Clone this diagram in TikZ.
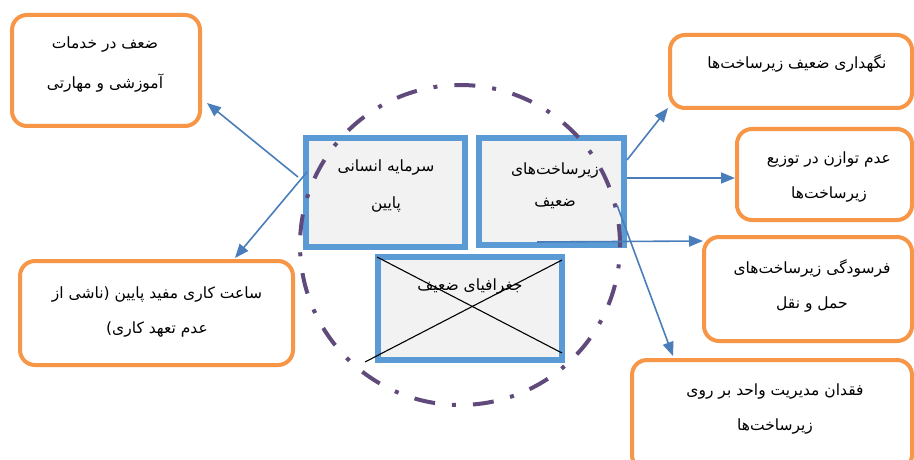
\documentclass[tikz,border=0pt]{standalone}
\usepackage{fontspec}
\newfontfamily\arabicfont[Script=Arabic]{DejaVu Sans}
\TeXXeTstate=1
\usetikzlibrary{arrows.meta}
\definecolor{bluebd}{HTML}{5B9BD5}
\definecolor{boxfill}{HTML}{F2F2F2}
\definecolor{arrblue}{HTML}{4A7EBB}
\definecolor{orng}{HTML}{F79646}
\definecolor{purp}{HTML}{604A7B}
\newcommand\fatxt[1]{\beginR #1\endR}
\tikzset{
  corebox/.style={draw=bluebd, fill=boxfill, line width=5.5pt, inner sep=0pt},
  outbox/.style={draw=orng, fill=white, line width=4pt, rounded corners=15pt, inner sep=0pt},
  fa/.style={font=\arabicfont\fontsize{15.5}{#1}\selectfont, align=center, inner sep=0pt},
  fa/.default=35,
  arr/.style={draw=arrblue, line width=1.6pt, -{Triangle[length=14pt,width=11pt]}},
  ring/.style={draw=purp, line width=4pt, dash pattern=on 21pt off 17pt on 4pt off 17pt},
  crossline/.style={draw=black, line width=1.1pt}
}
\begin{document}
\begin{tikzpicture}[x=1pt,y=-1pt]
\useasboundingbox (0,0) rectangle (914,460);
\clip (0,0) rectangle (914,460);
\fill[white] (0,0) rectangle (914,460);

% central boxes
\node[corebox, minimum width=159pt, minimum height=109pt] (human) at (385.5,192.5) {};
\node[corebox, minimum width=145pt, minimum height=107pt] (infra) at (551.5,191.5) {};
\node[corebox, minimum width=184pt, minimum height=103pt] (geo) at (470,308.5) {};

\node[fa=37] (humantxt) at (386,186.5) {\fatxt{سرمایه انسانی}\\\fatxt{پایین}};
\node[fa=32] (infratxt) at (555,186) {\fatxt{زیرساخت‌های}\\\fatxt{ضعیف}};
\node[fa] (geotxt) at (470,287) {\fatxt{جغرافیای ضعیف}};

% cross over geography box
\coordinate (c1a) at (377,257);
\coordinate (c1b) at (562,353);
\coordinate (c2a) at (365,362);
\coordinate (c2b) at (562,260);
\draw[crossline] (c1a) -- (c1b);
\draw[crossline] (c2a) -- (c2b);

% outer boxes
\node[outbox, minimum width=188pt, minimum height=111pt] (b1) at (106,70.5) {};
\node[fa=40] (b1txt) at (105,65) {\fatxt{ضعف در خدمات}\\\fatxt{آموزشی و مهارتی}};

\node[outbox, minimum width=273pt, minimum height=104pt] (b2) at (156.5,313) {};
\node[fa=35] (b2txt) at (157,312.5) {\fatxt{ساعت کاری مفید پایین (ناشی از}\\\fatxt{عدم تعهد کاری)}};

\node[outbox, minimum width=242pt, minimum height=73pt] (b3) at (791,71.5) {};
\node[fa] (b3txt) at (797,63) {\fatxt{نگهداری ضعیف زیرساخت‌ها}};

\node[outbox, minimum width=175pt, minimum height=91pt] (b4) at (824.5,174.5) {};
\node[fa=35] (b4txt) at (829,177.5) {\fatxt{عدم توازن در توزیع}\\\fatxt{زیرساخت‌ها}};

\node[outbox, minimum width=208pt, minimum height=104pt] (b5) at (808,289) {};
\node[fa=35] (b5txt) at (812,285.5) {\fatxt{فرسودگی زیرساخت‌های}\\\fatxt{حمل و نقل}};

\node[outbox, minimum width=280pt, minimum height=110pt] (b6) at (772,415) {};
\node[fa=35] (b6txt) at (775,409.5) {\fatxt{فقدان مدیریت واحد بر روی}\\\fatxt{زیرساخت‌ها}};

% dash-dot ring
\draw[ring] (460,245) circle[radius=160pt];

% arrows
\coordinate (s1) at (298,177);
\coordinate (e1) at (207,103);
\coordinate (s2) at (307,172);
\coordinate (e2) at (235,258);
\coordinate (s3) at (627,160);
\coordinate (e3) at (668,108);
\coordinate (s4) at (627,178);
\coordinate (e4) at (735,178);
\coordinate (s5) at (537,242);
\coordinate (e5) at (703,241);
\coordinate (s6) at (617,205);
\coordinate (e6) at (673,356);
\draw[arr] (s1) -- (e1);
\draw[arr] (s2) -- (e2);
\draw[arr] (s3) -- (e3);
\draw[arr] (s4) -- (e4);
\draw[arr] (s5) -- (e5);
\draw[arr] (s6) -- (e6);
\end{tikzpicture}
\end{document}
